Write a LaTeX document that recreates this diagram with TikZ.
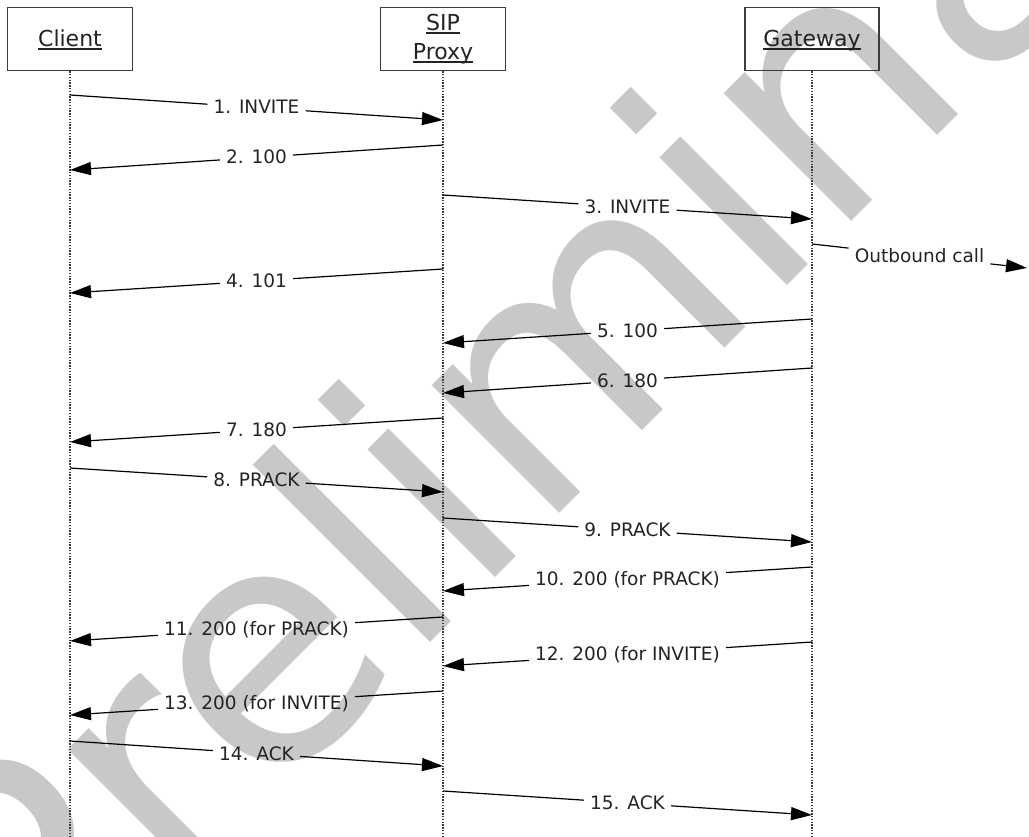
\documentclass[tikz,border=0pt]{standalone}
\usepackage{fontspec}
\setmainfont{DejaVu Sans}
\usetikzlibrary{arrows.meta,calc}
\definecolor{wm}{RGB}{200,200,200}
\definecolor{txt}{RGB}{35,35,35}
\definecolor{boxc}{RGB}{60,60,60}
\newcommand{\ulx}[1]{\leavevmode\setbox0\hbox{#1}\rlap{\rule[-3.2pt]{\wd0}{1.2pt}}\box0}
\tikzset{
  actor/.style={draw=boxc, line width=1.5pt, minimum width=125pt, minimum height=63pt,
    inner sep=0pt, font=\fontsize{22}{29}\selectfont, text=txt, align=center},
  life/.style={draw=boxc, line width=1.3pt, dash pattern=on 1.4pt off 1.4pt},
  msg/.style={line width=1.2pt, draw=black},
  tip/.style={-{Triangle[length=21pt,width=13pt]}},
  lbl/.style={font=\fontsize{18.5}{20}\selectfont, text=txt, inner xsep=6pt, inner ysep=3pt,
    text height=13pt, text depth=0pt},
  water/.style={text=wm, font=\fontsize{330}{330}\selectfont, inner sep=0pt},
}
\newcommand{\msgline}[6]{%
  \coordinate (#1s) at (#2,#3);
  \coordinate (#1e) at (#4,#5);
  \node[lbl] (#1) at ($(#1s)!0.5!(#1e)$) {#6};
  \draw[msg] (#1s) -- (#1);
  \draw[msg,tip] (#1) -- (#1e);
}
\begin{document}
\begin{tikzpicture}[x=1pt,y=-1pt]
\useasboundingbox (0,0) rectangle (1029,837);
\begin{scope}
  \clip (0,0) rectangle (1029,837);
  \node[water, rotate=45, anchor=base west] (wmk) at (37.5,1035.4) {Preliminary};
\end{scope}
% actors
\node[actor, text height=20pt, text depth=5pt] (client) at (70,39) {\ulx{Client}};
\node[actor] (proxy) at (443,39) {\ulx{SIP}\\\ulx{Proxy}};
\node[actor, minimum width=134pt, text height=20pt, text depth=5pt] (gateway) at (812,39) {\ulx{Gateway}};
% lifelines
\coordinate (cend) at (70,837);
\coordinate (pend) at (443,837);
\coordinate (gend) at (812,837);
\draw[life] (client) -- (cend);
\draw[life] (proxy) -- (pend);
\draw[life] (gateway) -- (gend);
% messages
\msgline{m1}{70}{95}{443}{120}{1. INVITE}
\msgline{m2}{443}{145}{70}{170}{2. 100}
\msgline{m3}{443}{195}{812}{219}{3. INVITE}
\msgline{ob}{812}{244}{1027}{268}{Outbound call}
\msgline{m4}{443}{269}{70}{293}{4. 101}
\msgline{m5}{812}{319}{443}{343}{5. 100}
\msgline{m6}{812}{368}{443}{393}{6. 180}
\msgline{m7}{443}{418}{70}{442}{7. 180}
\msgline{m8}{70}{468}{443}{492}{8. PRACK}
\msgline{m9}{443}{518}{812}{542}{9. PRACK}
\msgline{m10}{812}{567}{443}{591}{10. 200 (for PRACK)}
\msgline{m11}{443}{617}{70}{641}{11. 200 (for PRACK)}
\msgline{m12}{812}{642}{443}{666}{12. 200 (for INVITE)}
\msgline{m13}{443}{691}{70}{715}{13. 200 (for INVITE)}
\msgline{m14}{70}{741}{443}{766}{14. ACK}
\msgline{m15}{443}{791}{812}{815}{15. ACK}
\end{tikzpicture}
\end{document}
